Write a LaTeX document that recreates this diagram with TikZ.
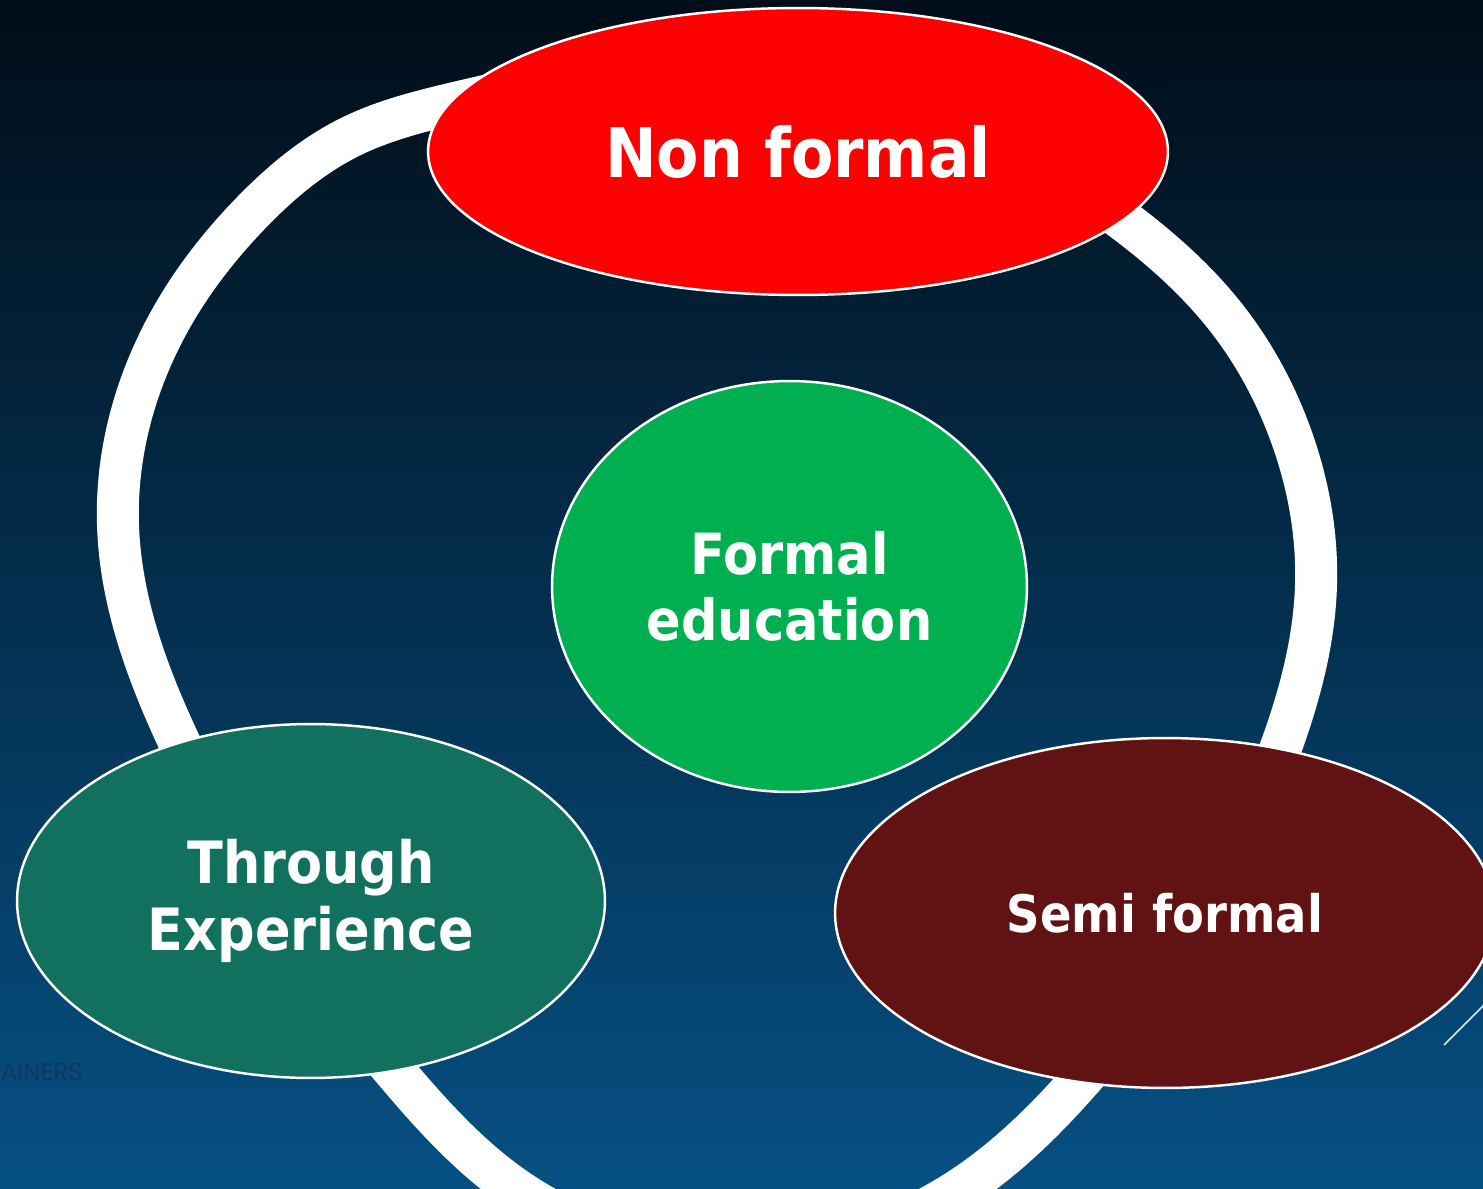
\documentclass[tikz,border=0pt]{standalone}
\usepackage{fontspec}
\usetikzlibrary{shapes.geometric,hobby}
\newfontfamily\bubblefont{DejaVu Sans}[FakeStretch=0.9]
\newfontfamily\tagfont{Poppins}
\definecolor{bgtop}{HTML}{010D18}
\definecolor{bgmid}{HTML}{032A4A}
\definecolor{bgbot}{HTML}{065083}
\definecolor{nonred}{HTML}{FF0000}
\definecolor{formgreen}{HTML}{00B050}
\definecolor{expteal}{HTML}{12705E}
\definecolor{semimaroon}{HTML}{611313}
\definecolor{tagblue}{HTML}{10385E}
\tikzset{
  bubble/.style={ellipse, draw=white, line width=1.4pt, text=white, inner sep=0pt, align=center},
}
\begin{document}
\begin{tikzpicture}[x=0.02cm,y=-0.02cm]
\useasboundingbox (0,0) rectangle (1483,1189);
\clip (0,0) rectangle (1483,1189);
\shade[top color=bgtop, middle color=bgmid, bottom color=bgbot] (0,0) rectangle (1483,1189);
% white ring behind the bubbles
\draw[white, line width=0.84cm] plot[closed hobby] coordinates {(455,103) (350,137) (250,214) (182,300) (118,525) (175,733) (403,1081) (516,1189) (960,1189) (1078,1083) (1281,747) (1316,585) (1290,433) (1228,320) (1123,220) (690,68)};
\node[font=\tagfont\fontsize{14}{17}\selectfont, text=tagblue, anchor=base west, inner sep=0pt] (tag) at (0.5,1080) {AINERS};
\coordinate (slashA) at (1444,1045); \coordinate (slashB) at (1492,997);
\draw[white!85!bgbot, line width=0.85pt] (slashA) -- (slashB);
\node[bubble, fill=nonred, minimum width=14.8cm, minimum height=5.74cm, font=\bubblefont\bfseries\fontsize{39}{46}\selectfont] (nonformal) at (798,151.5) {Non formal};
\node[bubble, fill=formgreen, minimum width=9.5cm, minimum height=8.22cm, font=\bubblefont\bfseries\fontsize{32.3}{37.5}\selectfont] (formal) at (789.5,586.5) {Formal\\education};
\node[bubble, fill=expteal, minimum width=11.76cm, minimum height=7.08cm, font=\bubblefont\bfseries\fontsize{33.2}{38}\selectfont] (experience) at (311,901) {Through\\Experience};
\node[bubble, fill=semimaroon, minimum width=13.2cm, minimum height=7cm, font=\bubblefont\bfseries\fontsize{29.4}{35}\selectfont] (semiformal) at (1165,913) {Semi formal};
\end{tikzpicture}
\end{document}
